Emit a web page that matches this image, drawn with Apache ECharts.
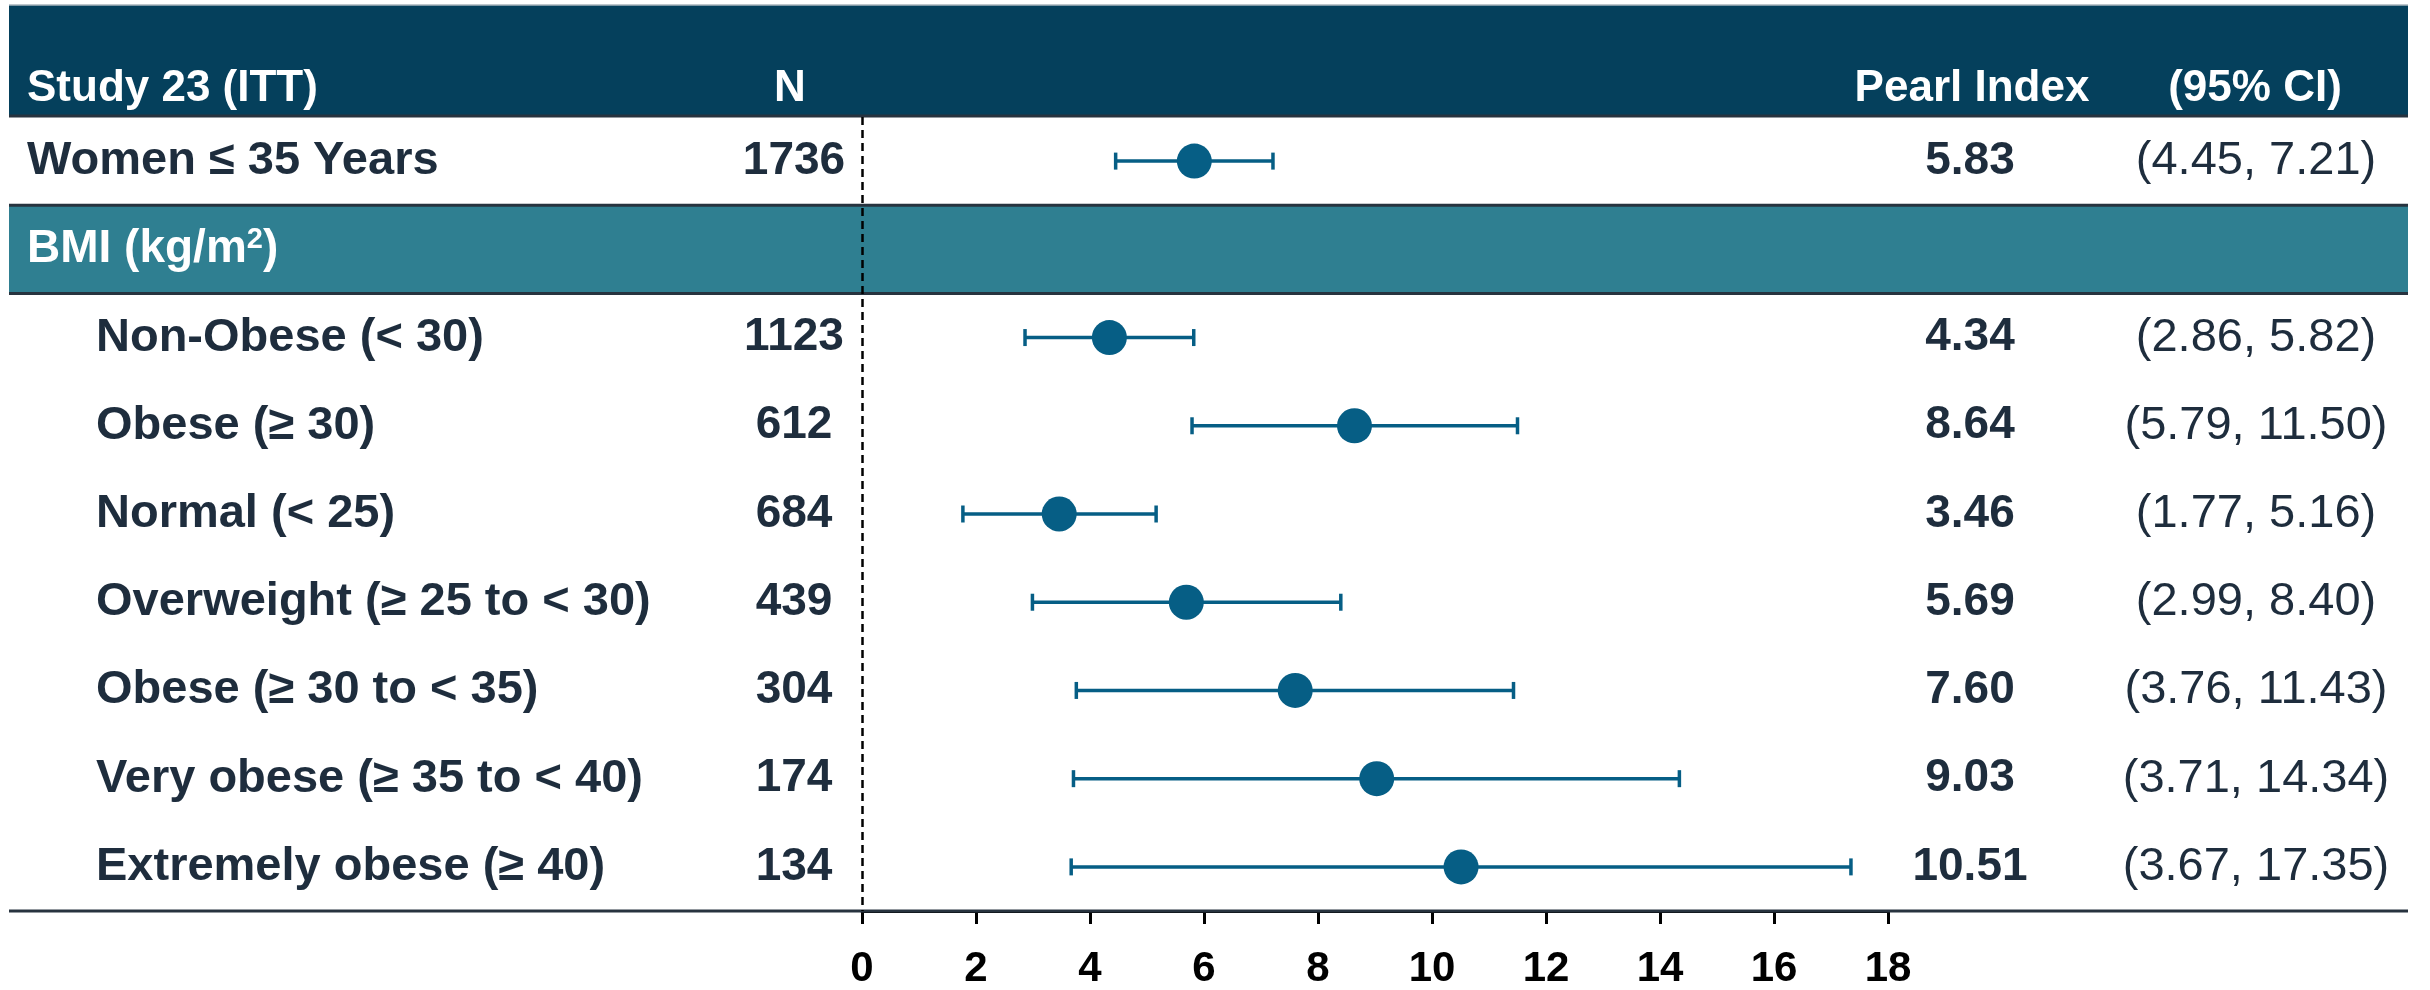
<!DOCTYPE html>
<html>
<head>
<meta charset="utf-8">
<script src="https://cdn.jsdelivr.net/npm/echarts@6/dist/echarts.min.js"></script>
<style>
  html, body { margin: 0; padding: 0; background: #ffffff; }
  #chart { width: 2430px; height: 990px; }
</style>
</head>
<body>
<div id="chart"></div>
<script>
// Forest plot: Pearl Index with 95% CI by subgroup (Study 23, ITT)
const categories = [
  'Women ≤ 35 Years',
  'BMI (kg/m²)',
  'Non-Obese (< 30)',
  'Obese (≥ 30)',
  'Normal (< 25)',
  'Overweight (≥ 25 to < 30)',
  'Obese (≥ 30 to < 35)',
  'Very obese (≥ 35 to < 40)',
  'Extremely obese (≥ 40)'
];
const rowKind = ['top', 'band', 'sub', 'sub', 'sub', 'sub', 'sub', 'sub', 'sub'];
const nValues = [1736, null, 1123, 612, 684, 439, 304, 174, 134];
const pearlIndex = [5.83, null, 4.34, 8.64, 3.46, 5.69, 7.60, 9.03, 10.51];
const ciLower = [4.45, null, 2.86, 5.79, 1.77, 2.99, 3.76, 3.71, 3.67];
const ciUpper = [7.21, null, 5.82, 11.50, 5.16, 8.40, 11.43, 14.34, 17.35];
const xTicks = [0, 2, 4, 6, 8, 10, 12, 14, 16, 18];

const FONT = '"Liberation Sans", Arial, Helvetica, sans-serif';
const TEXT = '#1e2d3d';
const NAVY = '#05405c';
const TEAL = '#2f7f91';
const MARK = '#065e85';
const LINE = '#27333f';

const chart = echarts.init(document.getElementById('chart'), null, { renderer: 'canvas' });

const GRID = { left: 862, right: 542, top: 117, bottom: 72 };

const pointData = pearlIndex.map((v, i) => v == null ? null : [v, i]);
const ciData = ciLower.map((lo, i) => lo == null ? null : [lo, ciUpper[i], i]);

function colAxis(position, margin, align, fmt, style, size) {
  return {
    type: 'category', data: categories, inverse: true, position: position,
    axisLine: { show: false }, axisTick: { show: false }, splitLine: { show: false },
    axisLabel: {
      show: true, interval: 0, margin: margin, align: align,
      fontFamily: FONT, fontSize: size, color: TEXT, fontWeight: style,
      formatter: fmt
    }
  };
}

const option = {
  animation: false,
  backgroundColor: '#ffffff',
  grid: GRID,
  xAxis: {
    type: 'value', min: 0, max: 18, interval: 2,
    axisLine: { show: true, lineStyle: { color: '#000000', width: 3 } },
    axisTick: { show: true, length: 13, lineStyle: { color: '#000000', width: 3 } },
    splitLine: { show: false },
    axisLabel: {
      margin: 37, fontFamily: FONT, fontSize: 42, fontWeight: 'bold', color: '#000000',
      formatter: v => xTicks.indexOf(v) >= 0 ? String(v) : ''
    }
  },
  yAxis: [
    {
      type: 'category', data: categories, inverse: true, position: 'left',
      axisLine: { show: false }, axisTick: { show: false }, splitLine: { show: false },
      axisLabel: {
        show: true, interval: 0, margin: 835, align: 'left',
        formatter: (val, i) => {
          const k = rowKind[i];
          if (k === 'band') {
            return '{band|BMI (kg/m}{sup|2}{band|)}';
          }
          return '{' + k + '|' + val + '}';
        },
        rich: {
          top: { fontFamily: FONT, fontSize: 47, fontWeight: 'bold', color: TEXT },
          sub: { fontFamily: FONT, fontSize: 47, fontWeight: 'bold', color: TEXT, padding: [0, 0, 0, 69] },
          band: { fontFamily: FONT, fontSize: 46, fontWeight: 'bold', color: '#ffffff' },
          sup: { fontFamily: FONT, fontSize: 29, fontWeight: 'bold', color: '#ffffff', verticalAlign: 'top', padding: [0, 0, 18, 0] }
        }
      }
    },
    colAxis('left', 68, 'center', (v, i) => nValues[i] == null ? '' : String(nValues[i]), 'bold', 46),
    colAxis('right', 82, 'center', (v, i) => pearlIndex[i] == null ? '' : pearlIndex[i].toFixed(2), 'bold', 46),
    colAxis('right', 368, 'center', (v, i) => ciLower[i] == null ? '' :
      '(' + ciLower[i].toFixed(2) + ', ' + ciUpper[i].toFixed(2) + ')', 'normal', 47)
  ],
  series: [
    {
      // confidence interval whiskers with end caps
      type: 'custom',
      yAxisIndex: 0,
      data: ciData.filter(d => d),
      encode: { x: [0, 1], y: 2 },
      z: 3,
      renderItem: (params, api) => {
        const lo = api.coord([api.value(0), api.value(2)]);
        const hi = api.coord([api.value(1), api.value(2)]);
        const capH = 17;
        const style = { stroke: MARK, lineWidth: 3.5, fill: null };
        return {
          type: 'group',
          children: [
            { type: 'line', shape: { x1: lo[0], y1: lo[1], x2: hi[0], y2: hi[1] }, style: style },
            { type: 'line', shape: { x1: lo[0], y1: lo[1] - capH / 2, x2: lo[0], y2: lo[1] + capH / 2 }, style: style },
            { type: 'line', shape: { x1: hi[0], y1: hi[1] - capH / 2, x2: hi[0], y2: hi[1] + capH / 2 }, style: style }
          ]
        };
      }
    },
    {
      type: 'scatter',
      yAxisIndex: 0,
      data: pointData.filter(d => d),
      symbol: 'circle',
      symbolSize: 35,
      itemStyle: { color: MARK, opacity: 1 },
      z: 4,
      markLine: {
        silent: true, symbol: 'none', label: { show: false },
        lineStyle: { color: '#000000', width: 2.5, type: [8, 5] },
        data: [{ xAxis: 0 }]
      }
    }
  ]
};

chart.setOption(option);

// table chrome: header band, subgroup band and row rules
const rowH = chart.convertToPixel({ yAxisIndex: 0 }, categories[1]) - chart.convertToPixel({ yAxisIndex: 0 }, categories[0]);
const bandMid = chart.convertToPixel({ yAxisIndex: 0 }, categories[1]);
const firstTop = GRID.top;
const lastBottom = chart.convertToPixel({ yAxisIndex: 0 }, categories[categories.length - 1]) + rowH / 2;
const X0 = 9, X1 = 2408;
const headerY = 89;
const headText = (text, x, align) => ({
  type: 'text', x: x, y: headerY, z: 5,
  style: { text: text, fill: '#ffffff', font: 'bold 44px ' + FONT, textAlign: align, textVerticalAlign: 'middle' }
});
const rule = (y, color, w) => ({
  type: 'line', z: 1, shape: { x1: X0, y1: y, x2: X1, y2: y }, style: { stroke: color, lineWidth: w }
});

chart.setOption({
  graphic: [
    { type: 'rect', z: -10, shape: { x: X0, y: 5, width: X1 - X0, height: firstTop - 6 }, style: { fill: NAVY } },
    { type: 'line', z: -9, shape: { x1: X0, y1: 5, x2: X1, y2: 5 }, style: { stroke: '#a9b4bd', lineWidth: 1.5 } },
    { type: 'rect', z: -10, shape: { x: X0, y: bandMid - rowH / 2, width: X1 - X0, height: rowH }, style: { fill: TEAL } },
    rule(firstTop - 1, LINE, 3),
    rule(bandMid - rowH / 2, LINE, 3),
    rule(bandMid + rowH / 2, LINE, 3),
    rule(lastBottom, LINE, 3),
    headText('Study 23 (ITT)', 27, 'left'),
    headText('N', 790, 'center'),
    headText('Pearl Index', 1972, 'center'),
    headText('(95% CI)', 2255, 'center')
  ]
});
</script>
</body>
</html>
